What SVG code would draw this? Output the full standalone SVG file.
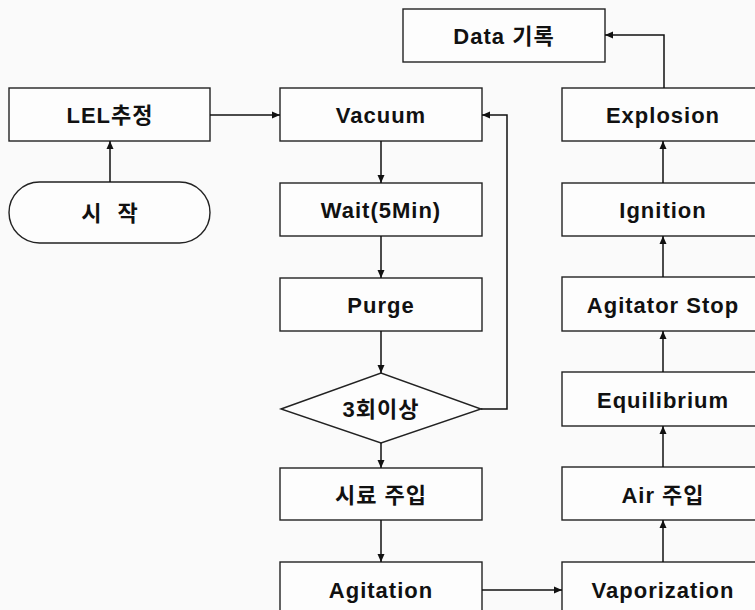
<svg xmlns="http://www.w3.org/2000/svg" width="755" height="610" viewBox="0 0 755 610">
<defs>
<marker id="ah" markerWidth="9" markerHeight="9" refX="8" refY="4.5" orient="auto" markerUnits="userSpaceOnUse">
<path d="M0,1 L8,4.5 L0,8 Z" fill="#111"/>
</marker>
<style>
.box{fill:#fdfdfd;stroke:#222;stroke-width:1.4}
.t{font-family:"Liberation Sans","Noto Sans CJK KR",Arial,sans-serif;font-weight:bold;font-size:22px;letter-spacing:1px;fill:#111;text-anchor:middle}
.c{fill:none;stroke:#111;stroke-width:1.5}
</style>
</defs>
<rect x="0" y="0" width="755" height="610" fill="#fafafa"/>
<g id="lel"><rect class="box" x="9" y="88" width="201" height="53"/><text class="t" x="110" y="123">LEL추정</text></g>
<g id="start"><rect class="box" x="9" y="182" width="201" height="61" rx="30.5" ry="30.5"/><text class="t" x="112" y="221" style="letter-spacing:5px">시 작</text></g>
<g id="vacuum"><rect class="box" x="280" y="88" width="202" height="53"/><text class="t" x="381" y="123">Vacuum</text></g>
<g id="wait"><rect class="box" x="280" y="183" width="202" height="53"/><text class="t" x="381" y="218">Wait(5Min)</text></g>
<g id="purge"><rect class="box" x="280" y="278" width="202" height="53"/><text class="t" x="381" y="313">Purge</text></g>
<g id="check"><polygon class="box" points="281,409 381,373 481,409 381,443"/><text class="t" x="381" y="417">3회이상</text></g>
<g id="sample"><rect class="box" x="280" y="468" width="202" height="52"/><text class="t" x="381" y="503">시료 주입</text></g>
<g id="agitation"><rect class="box" x="280" y="562" width="202" height="60"/><text class="t" x="381" y="598">Agitation</text></g>
<g id="data"><rect class="box" x="403" y="9" width="202" height="53"/><text class="t" x="504" y="44">Data 기록</text></g>
<g id="explosion"><rect class="box" x="562" y="88" width="202" height="53"/><text class="t" x="663" y="123">Explosion</text></g>
<g id="ignition"><rect class="box" x="562" y="183" width="202" height="53"/><text class="t" x="663" y="218">Ignition</text></g>
<g id="agstop"><rect class="box" x="562" y="277" width="202" height="54"/><text class="t" x="663" y="313">Agitator Stop</text></g>
<g id="equilibrium"><rect class="box" x="562" y="372" width="202" height="54"/><text class="t" x="663" y="408">Equilibrium</text></g>
<g id="air"><rect class="box" x="562" y="467" width="202" height="53"/><text class="t" x="663" y="503">Air 주입</text></g>
<g id="vaporization"><rect class="box" x="562" y="562" width="202" height="60"/><text class="t" x="663" y="598">Vaporization</text></g>
<g id="connectors">
<path class="c" d="M110,182 V141" marker-end="url(#ah)"/>
<path class="c" d="M210,115 H280" marker-end="url(#ah)"/>
<path class="c" d="M381,141 V183" marker-end="url(#ah)"/>
<path class="c" d="M381,236 V278" marker-end="url(#ah)"/>
<path class="c" d="M381,331 V373" marker-end="url(#ah)"/>
<path class="c" d="M381,443 V468" marker-end="url(#ah)"/>
<path class="c" d="M381,520 V562" marker-end="url(#ah)"/>
<path class="c" d="M481,409 H507 V115 H482" marker-end="url(#ah)"/>
<path class="c" d="M482,590 H562" marker-end="url(#ah)"/>
<path class="c" d="M663,562 V520" marker-end="url(#ah)"/>
<path class="c" d="M663,467 V426" marker-end="url(#ah)"/>
<path class="c" d="M663,372 V331" marker-end="url(#ah)"/>
<path class="c" d="M663,277 V236" marker-end="url(#ah)"/>
<path class="c" d="M663,183 V141" marker-end="url(#ah)"/>
<path class="c" d="M664,88 V35 H605" marker-end="url(#ah)"/>
</g>
</svg>
